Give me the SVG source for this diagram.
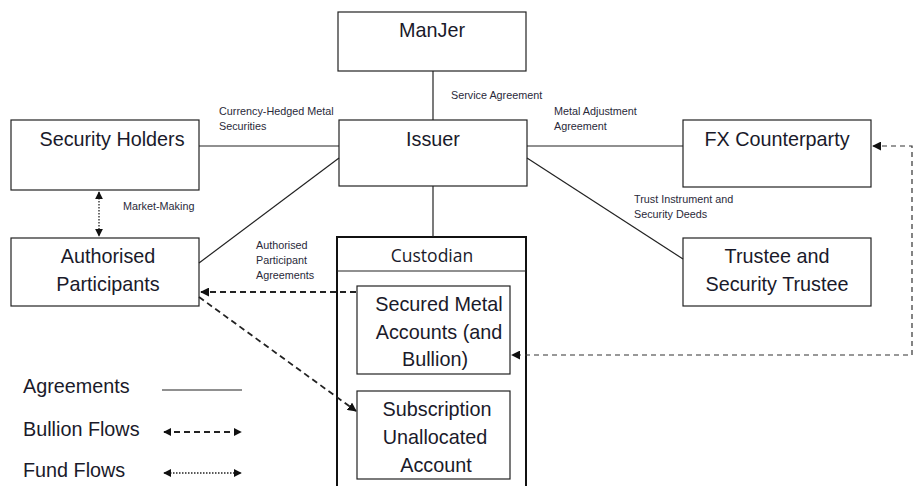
<svg xmlns="http://www.w3.org/2000/svg" width="914" height="486" viewBox="0 0 914 486">
<defs>
<style>
.box{fill:#fff;stroke:#222;stroke-width:1.2}
.cust{fill:none;stroke:#111;stroke-width:2}
.t{font-family:"Liberation Sans",Arial,sans-serif;font-size:19.8px;fill:#1a1a2a;text-anchor:middle}
.tc{font-family:"Open Sans","Liberation Sans",sans-serif;font-size:17.5px;fill:#1a1a2a;text-anchor:middle}
.lbl{font-family:"Liberation Sans",Arial,sans-serif;font-size:10.8px;fill:#2a2a3a}
.leg{font-family:"Liberation Sans",Arial,sans-serif;font-size:19.8px;fill:#1a1a2a}
.agr{stroke:#222;stroke-width:1.2;fill:none}
.bul{stroke:#222;stroke-width:1.8;fill:none;stroke-dasharray:6,4}
.bulr{stroke:#333;stroke-width:1.2;fill:none;stroke-dasharray:5,4}
.fund{stroke:#222;stroke-width:1.3;fill:none;stroke-dasharray:1.5,1.5}
</style>
<marker id="ah" viewBox="0 0 10 10" refX="9" refY="5" markerWidth="9" markerHeight="9" markerUnits="userSpaceOnUse" orient="auto-start-reverse">
<path d="M0,0 L10,5 L0,10 z" fill="#111"/>
</marker>
<marker id="ahs" viewBox="0 0 10 10" refX="9" refY="5" markerWidth="8" markerHeight="8" markerUnits="userSpaceOnUse" orient="auto-start-reverse">
<path d="M0,0 L10,5 L0,10 z" fill="#111"/>
</marker>
</defs>
<rect width="914" height="486" fill="#fff"/>

<g id="manjer">
<rect class="box" x="338" y="12" width="188" height="59"/>
<text class="t" x="432" y="37">ManJer</text>
</g>
<g id="issuer">
<rect class="box" x="339" y="120" width="188" height="66"/>
<text class="t" x="433" y="146">Issuer</text>
</g>
<g id="security-holders">
<rect class="box" x="11" y="120" width="188" height="70"/>
<text class="t" x="112" y="146">Security Holders</text>
</g>
<g id="fx-counterparty">
<rect class="box" x="683" y="120" width="188" height="67"/>
<text class="t" x="777" y="146">FX Counterparty</text>
</g>
<g id="authorised-participants">
<rect class="box" x="11" y="238" width="188" height="68"/>
<text class="t" x="108" y="263">Authorised</text>
<text class="t" x="108" y="291">Participants</text>
</g>
<g id="trustee">
<rect class="box" x="683" y="238" width="188" height="68"/>
<text class="t" x="777" y="263">Trustee and</text>
<text class="t" x="777" y="291">Security Trustee</text>
</g>
<g id="custodian">
<rect class="cust" x="337" y="237" width="189" height="260"/>
<line class="agr" x1="337" y1="271" x2="526" y2="271"/>
<text class="tc" x="432" y="262">Custodian</text>
</g>
<g id="secured-metal">
<rect class="box" x="357" y="286" width="153" height="88"/>
<text class="t" x="439" y="311">Secured Metal</text>
<text class="t" x="439" y="339">Accounts (and</text>
<text class="t" x="435" y="366">Bullion)</text>
</g>
<g id="subscription">
<rect class="box" x="357" y="391" width="153" height="88"/>
<text class="t" x="437" y="416">Subscription</text>
<text class="t" x="435" y="444">Unallocated</text>
<text class="t" x="436" y="472">Account</text>
</g>

<g id="connectors">
<line class="agr" x1="433" y1="71" x2="433" y2="120"/>
<line class="agr" x1="433" y1="186" x2="433" y2="237"/>
<line class="agr" x1="199" y1="146" x2="339" y2="146"/>
<line class="agr" x1="527" y1="146" x2="683" y2="146"/>
<line class="agr" x1="527" y1="158" x2="683" y2="259"/>
<line class="agr" x1="339" y1="158" x2="199" y2="263"/>
<line class="fund" x1="99" y1="192" x2="99" y2="236" marker-start="url(#ahs)" marker-end="url(#ahs)"/>
<line class="bul" x1="356" y1="292" x2="201" y2="292" marker-end="url(#ah)"/>
<line class="bul" x1="199" y1="297" x2="356" y2="411" marker-end="url(#ah)"/>
<polyline class="bulr" points="873,146 912,146 912,355 512,355" marker-start="url(#ah)" marker-end="url(#ah)"/>
<text class="lbl" x="219" y="115">Currency-Hedged Metal</text>
<text class="lbl" x="219" y="130">Securities</text>
<text class="lbl" x="451" y="99">Service Agreement</text>
<text class="lbl" x="554" y="115">Metal Adjustment</text>
<text class="lbl" x="554" y="130">Agreement</text>
<text class="lbl" x="634" y="203">Trust Instrument and</text>
<text class="lbl" x="634" y="218">Security Deeds</text>
<text class="lbl" x="123" y="210">Market-Making</text>
<text class="lbl" x="256" y="249">Authorised</text>
<text class="lbl" x="256" y="264">Participant</text>
<text class="lbl" x="256" y="279">Agreements</text>
</g>

<g id="legend">
<text class="leg" x="23" y="393">Agreements</text>
<line class="agr" x1="162" y1="390" x2="242" y2="390"/>
<text class="leg" x="23" y="436">Bullion Flows</text>
<line class="bul" x1="164" y1="432" x2="241" y2="432" stroke-width="1.3" marker-start="url(#ahs)" marker-end="url(#ahs)"/>
<text class="leg" x="23" y="477">Fund Flows</text>
<line class="fund" x1="164" y1="473" x2="241" y2="473" marker-start="url(#ahs)" marker-end="url(#ahs)"/>
</g>
</svg>
